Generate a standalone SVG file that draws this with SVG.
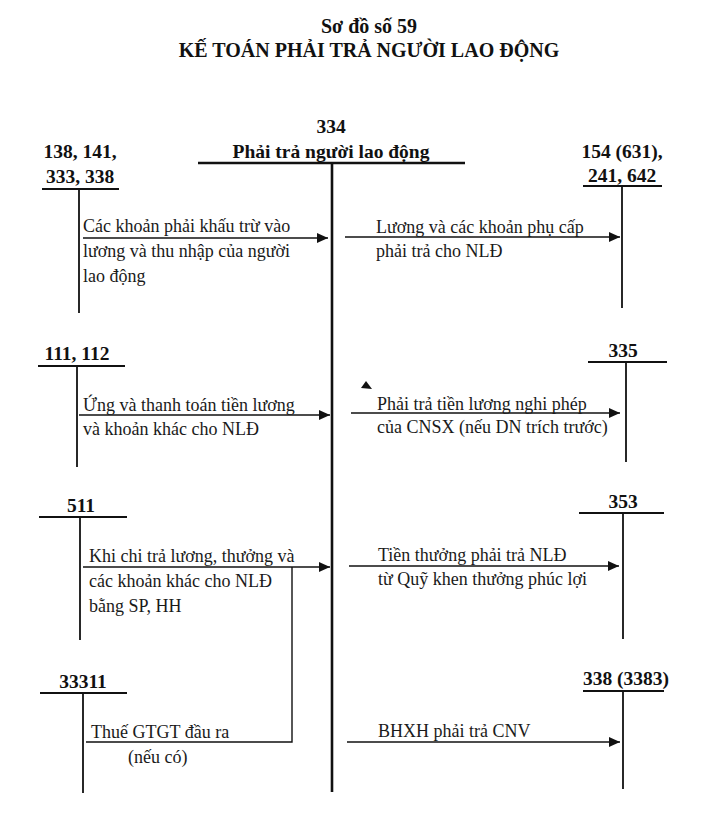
<svg xmlns="http://www.w3.org/2000/svg" width="717" height="831" viewBox="0 0 717 831">
<defs>
<marker id="ah" markerUnits="userSpaceOnUse" markerWidth="12" markerHeight="10" refX="11" refY="5" orient="auto">
<path d="M0,0 L11,5 L0,10 Z" fill="#111"/>
</marker>
<style>
.t{font-family:"Liberation Serif","Times New Roman",serif;font-size:18px;fill:#1a1a1a}
.b{font-family:"Liberation Serif","Times New Roman",serif;font-size:19.5px;font-weight:bold;fill:#111}
.h{font-family:"Liberation Serif","Times New Roman",serif;font-size:20px;font-weight:bold;fill:#111}
.m{text-anchor:middle}
.acc{stroke:#111;stroke-width:1.8;fill:none}
.main{stroke:#111;stroke-width:2.6;fill:none}
.arr{stroke:#111;stroke-width:1.4;fill:none;marker-end:url(#ah)}
.ln{stroke:#111;stroke-width:1.4;fill:none}
</style>
</defs>
<rect width="717" height="831" fill="#fff"/>
<g id="title">
<text class="h m" x="369" y="33">Sơ đồ số 59</text>
<text class="h m" x="369" y="57">KẾ TOÁN PHẢI TRẢ NGƯỜI LAO ĐỘNG</text>
</g>
<g id="acc334">
<text class="b m" x="331" y="133">334</text>
<text class="b m" x="331" y="158">Phải trả người lao động</text>
<line class="main" x1="198" y1="163" x2="465" y2="163"/>
<line class="main" x1="332" y1="163" x2="332" y2="792"/>
</g>
<g id="acc138">
<text class="b m" x="80" y="158">138, 141,</text>
<text class="b m" x="80" y="183">333, 338</text>
<line class="acc" x1="42" y1="189" x2="119" y2="189"/>
<line class="acc" x1="79" y1="189" x2="79" y2="313"/>
</g>
<g id="acc154">
<text class="b m" x="622" y="158">154 (631),</text>
<text class="b m" x="622" y="182">241, 642</text>
<line class="acc" x1="583" y1="186" x2="662" y2="186"/>
<line class="acc" x1="622" y1="186" x2="622" y2="308"/>
</g>
<g id="acc111">
<text class="b m" x="77" y="360">111, 112</text>
<line class="acc" x1="38" y1="366" x2="125" y2="366"/>
<line class="acc" x1="77" y1="366" x2="77" y2="467"/>
</g>
<g id="acc335">
<text class="b m" x="623" y="357">335</text>
<line class="acc" x1="588" y1="362" x2="667" y2="362"/>
<line class="acc" x1="626" y1="362" x2="626" y2="462"/>
</g>
<g id="acc511">
<text class="b m" x="81" y="512">511</text>
<line class="acc" x1="39" y1="517" x2="127" y2="517"/>
<line class="acc" x1="80" y1="517" x2="80" y2="640"/>
</g>
<g id="acc353">
<text class="b m" x="623" y="508">353</text>
<line class="acc" x1="579" y1="513" x2="664" y2="513"/>
<line class="acc" x1="623" y1="513" x2="623" y2="639"/>
</g>
<g id="acc33311">
<text class="b m" x="83" y="688">33311</text>
<line class="acc" x1="40" y1="693" x2="127" y2="693"/>
<line class="acc" x1="83" y1="693" x2="83" y2="793"/>
</g>
<g id="acc338">
<text class="b m" x="626" y="685">338 (3383)</text>
<line class="acc" x1="583" y1="691" x2="664" y2="691"/>
<line class="acc" x1="623" y1="691" x2="623" y2="789"/>
</g>
<g id="connectors">
<line class="arr" x1="83" y1="238" x2="328" y2="238"/>
<line class="arr" x1="345" y1="237" x2="620" y2="237"/>
<line class="arr" x1="79" y1="415" x2="330" y2="415"/>
<line class="arr" x1="351" y1="413" x2="620" y2="413"/>
<line class="arr" x1="83" y1="567" x2="330" y2="567"/>
<line class="arr" x1="349" y1="566" x2="619" y2="566"/>
<polyline class="ln" points="292,567 292,742 86,742"/>
<line class="arr" x1="347" y1="742" x2="620" y2="742"/>
<polygon points="366,381 361,388 372,389" fill="#111"/>
</g>
<g id="labels">
<text class="t" x="83" y="232">Các khoản phải khấu trừ vào</text>
<text class="t" x="83" y="257">lương và thu nhập của người</text>
<text class="t" x="83" y="282">lao động</text>
<text class="t" x="376" y="233">Lương và các khoản phụ cấp</text>
<text class="t" x="376" y="257">phải trả cho NLĐ</text>
<text class="t" x="83" y="411">Ứng và thanh toán tiền lương</text>
<text class="t" x="83" y="435">và khoản khác cho NLĐ</text>
<text class="t" x="377" y="410">Phải trả tiền lương nghi phép</text>
<text class="t" x="377" y="433">của CNSX (nếu DN trích trước)</text>
<text class="t" x="89" y="562">Khi chi trả lương, thưởng và</text>
<text class="t" x="89" y="587">các khoản khác cho NLĐ</text>
<text class="t" x="89" y="612">bằng SP, HH</text>
<text class="t" x="378" y="561">Tiền thưởng phải trả NLĐ</text>
<text class="t" x="378" y="585">từ Quỹ khen thưởng phúc lợi</text>
<text class="t" x="91" y="738">Thuế GTGT đầu ra</text>
<text class="t" x="128" y="763">(nếu có)</text>
<text class="t" x="378" y="737">BHXH phải trả CNV</text>
</g>
</svg>
